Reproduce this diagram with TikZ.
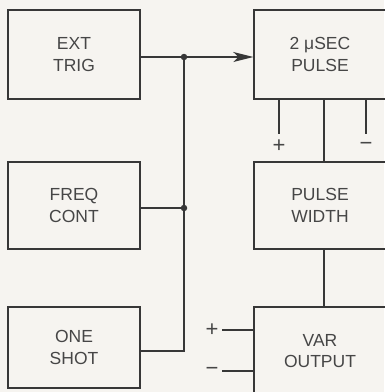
\documentclass[tikz,border=0pt]{standalone}
\usepackage{fontspec}
\setmainfont{Liberation Sans}
\usetikzlibrary{arrows.meta}
\definecolor{linec}{RGB}{55,55,55}
\definecolor{textc}{RGB}{70,70,70}
\definecolor{bgc}{RGB}{246,244,240}
\begin{document}
\begin{tikzpicture}[x=1pt,y=-1pt,
  blk/.style={draw=linec, line width=1.4pt, minimum width=132pt, inner sep=0pt, align=center, font=\fontsize{17.5}{21.5}\selectfont, text=textc},
  wire/.style={draw=linec, line width=1.4pt},
  jdot/.style={circle, fill=linec, inner sep=0pt, minimum size=6.5pt},
  sign/.style={font=\fontsize{22}{22}\selectfont, text=textc, inner sep=0pt}]
\useasboundingbox[fill=bgc] (0,0) rectangle (384,392);
\node[blk, minimum height=89pt] (ext) at (74,54.5) {EXT\\TRIG};
\node[blk, minimum height=87pt] (freq) at (74,205.5) {FREQ\\CONT};
\node[blk, minimum height=81pt] (one) at (74,347.5) {ONE\\SHOT};
\node[blk, minimum height=89pt] (pul) at (320,54.5) {2 μSEC\\PULSE};
\node[blk, minimum height=87pt] (wid) at (320,205.5) {PULSE\\WIDTH};
\node[blk, minimum height=88pt] (var) at (320,351) {VAR\\OUTPUT};
% junctions
\coordinate (j1) at (184,57);
\coordinate (j2) at (184,208);
\coordinate (j3) at (184,351);
\draw[wire] (ext.east |- j1) -- (j1);
\draw[wire, -{Stealth[length=20pt,width=10pt,inset=5pt]}] (j1) -- (pul.west |- j1);
\draw[wire] (j1) -- (j3) -- (one.east |- j3);
\draw[wire] (freq.east |- j2) -- (j2);
\node[jdot] (d1) at (j1) {};
\node[jdot] (d2) at (j2) {};
% pulse outputs
\coordinate (pp) at (279,134);
\coordinate (pm) at (366,134);
\coordinate (pc) at (324,0);
\draw[wire] (pul.south -| pp) -- (pp);
\draw[wire] (pul.south -| pm) -- (pm);
\node[sign] (plus1) at (279,146) {+};
\node[sign] (minus1) at (366,146) {−};
\draw[wire] (pul.south -| pc) -- (wid.north -| pc);
\draw[wire] (wid.south -| pc) -- (var.north -| pc);
% var output inputs
\node[sign] (plus2) at (212,330) {+};
\node[sign] (minus2) at (212,371) {−};
\coordinate (vp) at (222,330);
\coordinate (vm) at (222,371);
\draw[wire] (vp) -- (var.west |- vp);
\draw[wire] (vm) -- (var.west |- vm);
\end{tikzpicture}
\end{document}
